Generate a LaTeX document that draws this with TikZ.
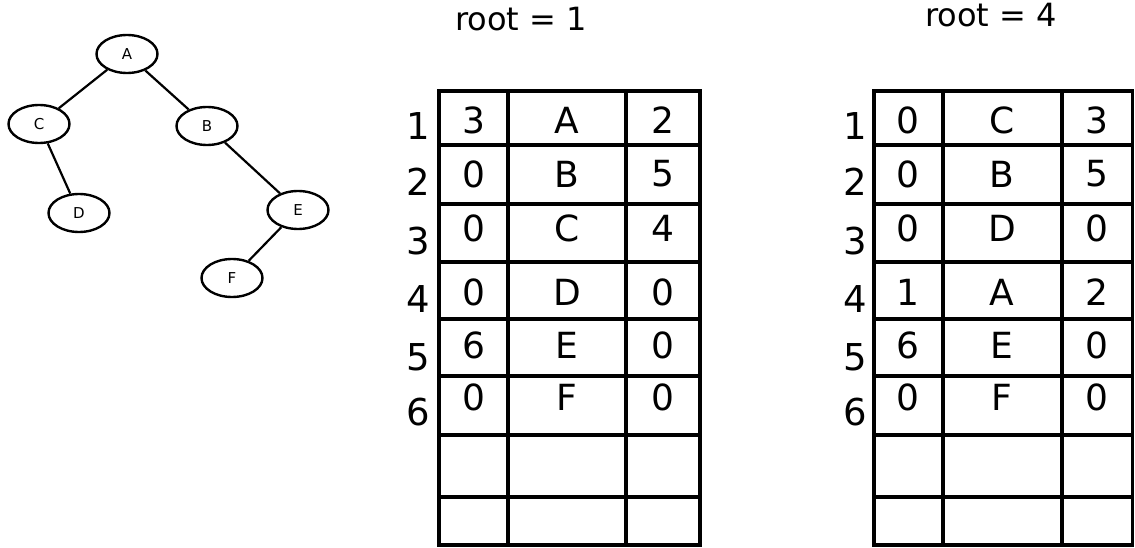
\documentclass[tikz,border=0pt]{standalone}
\usepackage{fontspec}
\setmainfont{DejaVu Sans}
\usetikzlibrary{shapes.geometric}

\begin{document}
\begin{tikzpicture}[x=1pt,y=-1pt,
 vertex/.style={ellipse,draw,line width=2.4pt,minimum width=61pt,
 minimum height=38pt,inner sep=0pt,font=\fontsize{15}{15}\selectfont},
 cell/.style={inner sep=0pt,font=\fontsize{36}{36}\selectfont},
 rowno/.style={inner sep=0pt,font=\fontsize{37}{37}\selectfont},
 title/.style={inner sep=0pt,font=\fontsize{32}{32}\selectfont},
 gridline/.style={line width=3.2pt,line cap=rect}]
 \useasboundingbox (0,0) rectangle (1135,548);
 \node[vertex] (A) at (127,54) {A};
 \node[vertex] (C) at (39,124) {C};
 \node[vertex] (B) at (207,126) {B};
 \node[vertex] (D) at (79,213) {D};
 \node[vertex] (E) at (298,210) {E};
 \node[vertex] (F) at (232,278) {F};
 \foreach \x/\y in {A/C,A/B,C/D,B/E,E/F}
   \draw[line width=2.2pt] (\x)--(\y);
 \node[title] (rootone) at (521,19) {root = 1};
 \node[title] (roottwo) at (991,15) {root = 4};
 \foreach \l/\a/\b/\r in {439/508/626/700,874/943/1062/1132.5}{
   \foreach \y in {91,145,204,262,319,376,435,497,545}
     \draw[gridline] (\l,\y) -- (\r,\y);
   \foreach \x in {\l,\a,\b,\r}
     \draw[gridline] (\x,91) -- (\x,545);
 }
 \foreach \p/\q/\s/\ty/\ly [count=\i] in {3/A/2/120/126,0/B/5/174/182,
 0/C/4/228/241,0/D/0/292/299,6/E/0/345/357,0/F/0/397/412}{
   \node[rowno] (onen\i) at (418,\ly) {\i};
   \node[cell] (onel\i) at (474,\ty) {\p};
   \node[cell] (onem\i) at (567,\ty) {\q};
   \node[cell] (oner\i) at (663,\ty) {\s};
 }
 \foreach \p/\q/\s/\ty/\ly [count=\i] in {0/C/3/120/126,0/B/5/174/182,
 0/D/0/228/241,1/A/2/292/299,6/E/0/345/357,0/F/0/397/412}{
   \node[rowno] (twon\i) at (855,\ly) {\i};
   \node[cell] (twol\i) at (908,\ty) {\p};
   \node[cell] (twom\i) at (1002,\ty) {\q};
   \node[cell] (twor\i) at (1097,\ty) {\s};
 }
\end{tikzpicture}
\end{document}
